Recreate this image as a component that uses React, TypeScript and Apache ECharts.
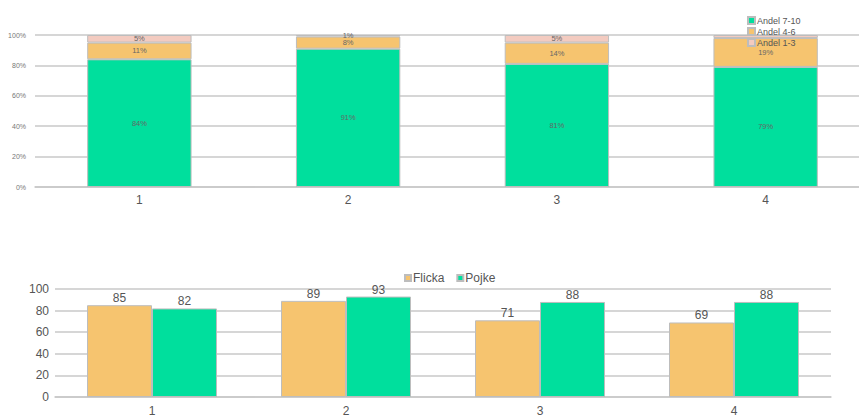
import React, { useEffect, useRef } from "react";
import * as echarts from "echarts";

const topCategories = ["1", "2", "3", "4"];
const andel710 = [84, 91, 81, 79];
const andel46 = [11, 8, 14, 19];
const andel13 = [5, 1, 5, 2];

const bottomCategories = ["1", "2", "3", "4"];
const flicka = [85, 89, 71, 69];
const pojke = [82, 93, 88, 88];

const GREEN = "#00df9d";
const ORANGE = "#f6c46f";
const PINK = "#f3cbc0";
const FONT = "'Liberation Sans', Arial, sans-serif";

export default function App() {
  const ref = useRef<HTMLDivElement>(null);
  useEffect(() => {
    document.body.style.margin = "0";
    const chart = echarts.init(ref.current!, null, { renderer: "svg" });
    const topLabel = {
      show: true,
      position: "inside",
      formatter: "{c}%",
      fontSize: 7.5,
      color: "#666",
      fontFamily: FONT,
    };
    const barBorder = { borderColor: "#bdbdbd", borderWidth: 1 };
    chart.setOption({
      animation: false,
      textStyle: { fontFamily: FONT },
      graphic: [
        {
          type: "text",
          x: 638,
          y: -2,
          style: {
            text: "g",
            fontSize: 28,
            fontWeight: "bold",
            fill: "#14a673",
            fontFamily: FONT,
            textVerticalAlign: "bottom",
          },
        },
      ],
      legend: [
        {
          data: ["Andel 7-10", "Andel 4-6", "Andel 1-3"],
          orient: "vertical",
          left: 742,
          top: 11,
          icon: "rect",
          itemWidth: 7,
          itemHeight: 7,
          itemGap: 2,
          textStyle: { fontSize: 9, color: "#555", padding: [0, 0, 0, -3] },
        },
        {
          data: ["Flicka", "Pojke"],
          left: 399,
          top: 267,
          icon: "rect",
          itemWidth: 6,
          itemHeight: 6,
          itemGap: 12,
          textStyle: { fontSize: 12, color: "#555", padding: [0, 0, 0, -3] },
        },
      ],
      grid: [
        { left: 35, top: 35, width: 835, height: 152, containLabel: false },
        { left: 55, top: 289, width: 776, height: 113, containLabel: false },
      ],
      xAxis: [
        {
          type: "category",
          gridIndex: 0,
          data: topCategories,
          axisLine: { lineStyle: { color: "#c8c8c8", width: 1.5 } },
          axisTick: { show: false },
          axisLabel: { fontSize: 12, color: "#555", margin: 7 },
        },
        {
          type: "category",
          gridIndex: 1,
          data: bottomCategories,
          axisLine: { lineStyle: { color: "#c8c8c8", width: 1.5 } },
          axisTick: { show: false },
          axisLabel: { fontSize: 12, color: "#555", margin: 8 },
        },
      ],
      yAxis: [
        {
          type: "value",
          gridIndex: 0,
          min: 0,
          max: 100,
          interval: 20,
          axisLine: { show: false },
          axisTick: { show: false },
          axisLabel: { formatter: "{value}%", fontSize: 7, color: "#777", margin: 9 },
          splitLine: { lineStyle: { color: "#c8c8c8", width: 1.5 } },
        },
        {
          type: "value",
          gridIndex: 1,
          min: 0,
          max: 100,
          interval: 20,
          axisLine: { show: false },
          axisTick: { show: false },
          axisLabel: { fontSize: 12, color: "#555", margin: 6 },
          splitLine: { lineStyle: { color: "#c8c8c8", width: 1.5 } },
        },
      ],
      series: [
        {
          name: "Andel 7-10",
          type: "bar",
          stack: "top",
          xAxisIndex: 0,
          yAxisIndex: 0,
          data: andel710,
          barCategoryGap: "50%",
          itemStyle: { color: GREEN, ...barBorder },
          label: topLabel,
        },
        {
          name: "Andel 4-6",
          type: "bar",
          stack: "top",
          xAxisIndex: 0,
          yAxisIndex: 0,
          data: andel46,
          itemStyle: { color: ORANGE, ...barBorder },
          label: topLabel,
        },
        {
          name: "Andel 1-3",
          type: "bar",
          stack: "top",
          xAxisIndex: 0,
          yAxisIndex: 0,
          data: andel13.map((v, i) =>
            i === 3 ? { value: v, label: { show: false } } : v
          ),
          itemStyle: { color: PINK, ...barBorder },
          label: topLabel,
        },
        {
          name: "Flicka",
          type: "bar",
          xAxisIndex: 1,
          yAxisIndex: 1,
          data: flicka,
          barGap: "0%",
          barCategoryGap: "33%",
          itemStyle: { color: ORANGE, ...barBorder },
          label: { show: true, position: "top", distance: 1, fontSize: 12, color: "#555" },
        },
        {
          name: "Pojke",
          type: "bar",
          xAxisIndex: 1,
          yAxisIndex: 1,
          data: pojke,
          barGap: "0%",
          barCategoryGap: "33%",
          itemStyle: { color: GREEN, ...barBorder },
          label: { show: true, position: "top", distance: 1, fontSize: 12, color: "#555" },
        },
      ],
    });
    return () => chart.dispose();
  }, []);
  return (
    <div style={{ width: 859, height: 417, overflow: "hidden" }}>
      <div ref={ref} style={{ width: 900, height: 417 }} />
    </div>
  );
}
